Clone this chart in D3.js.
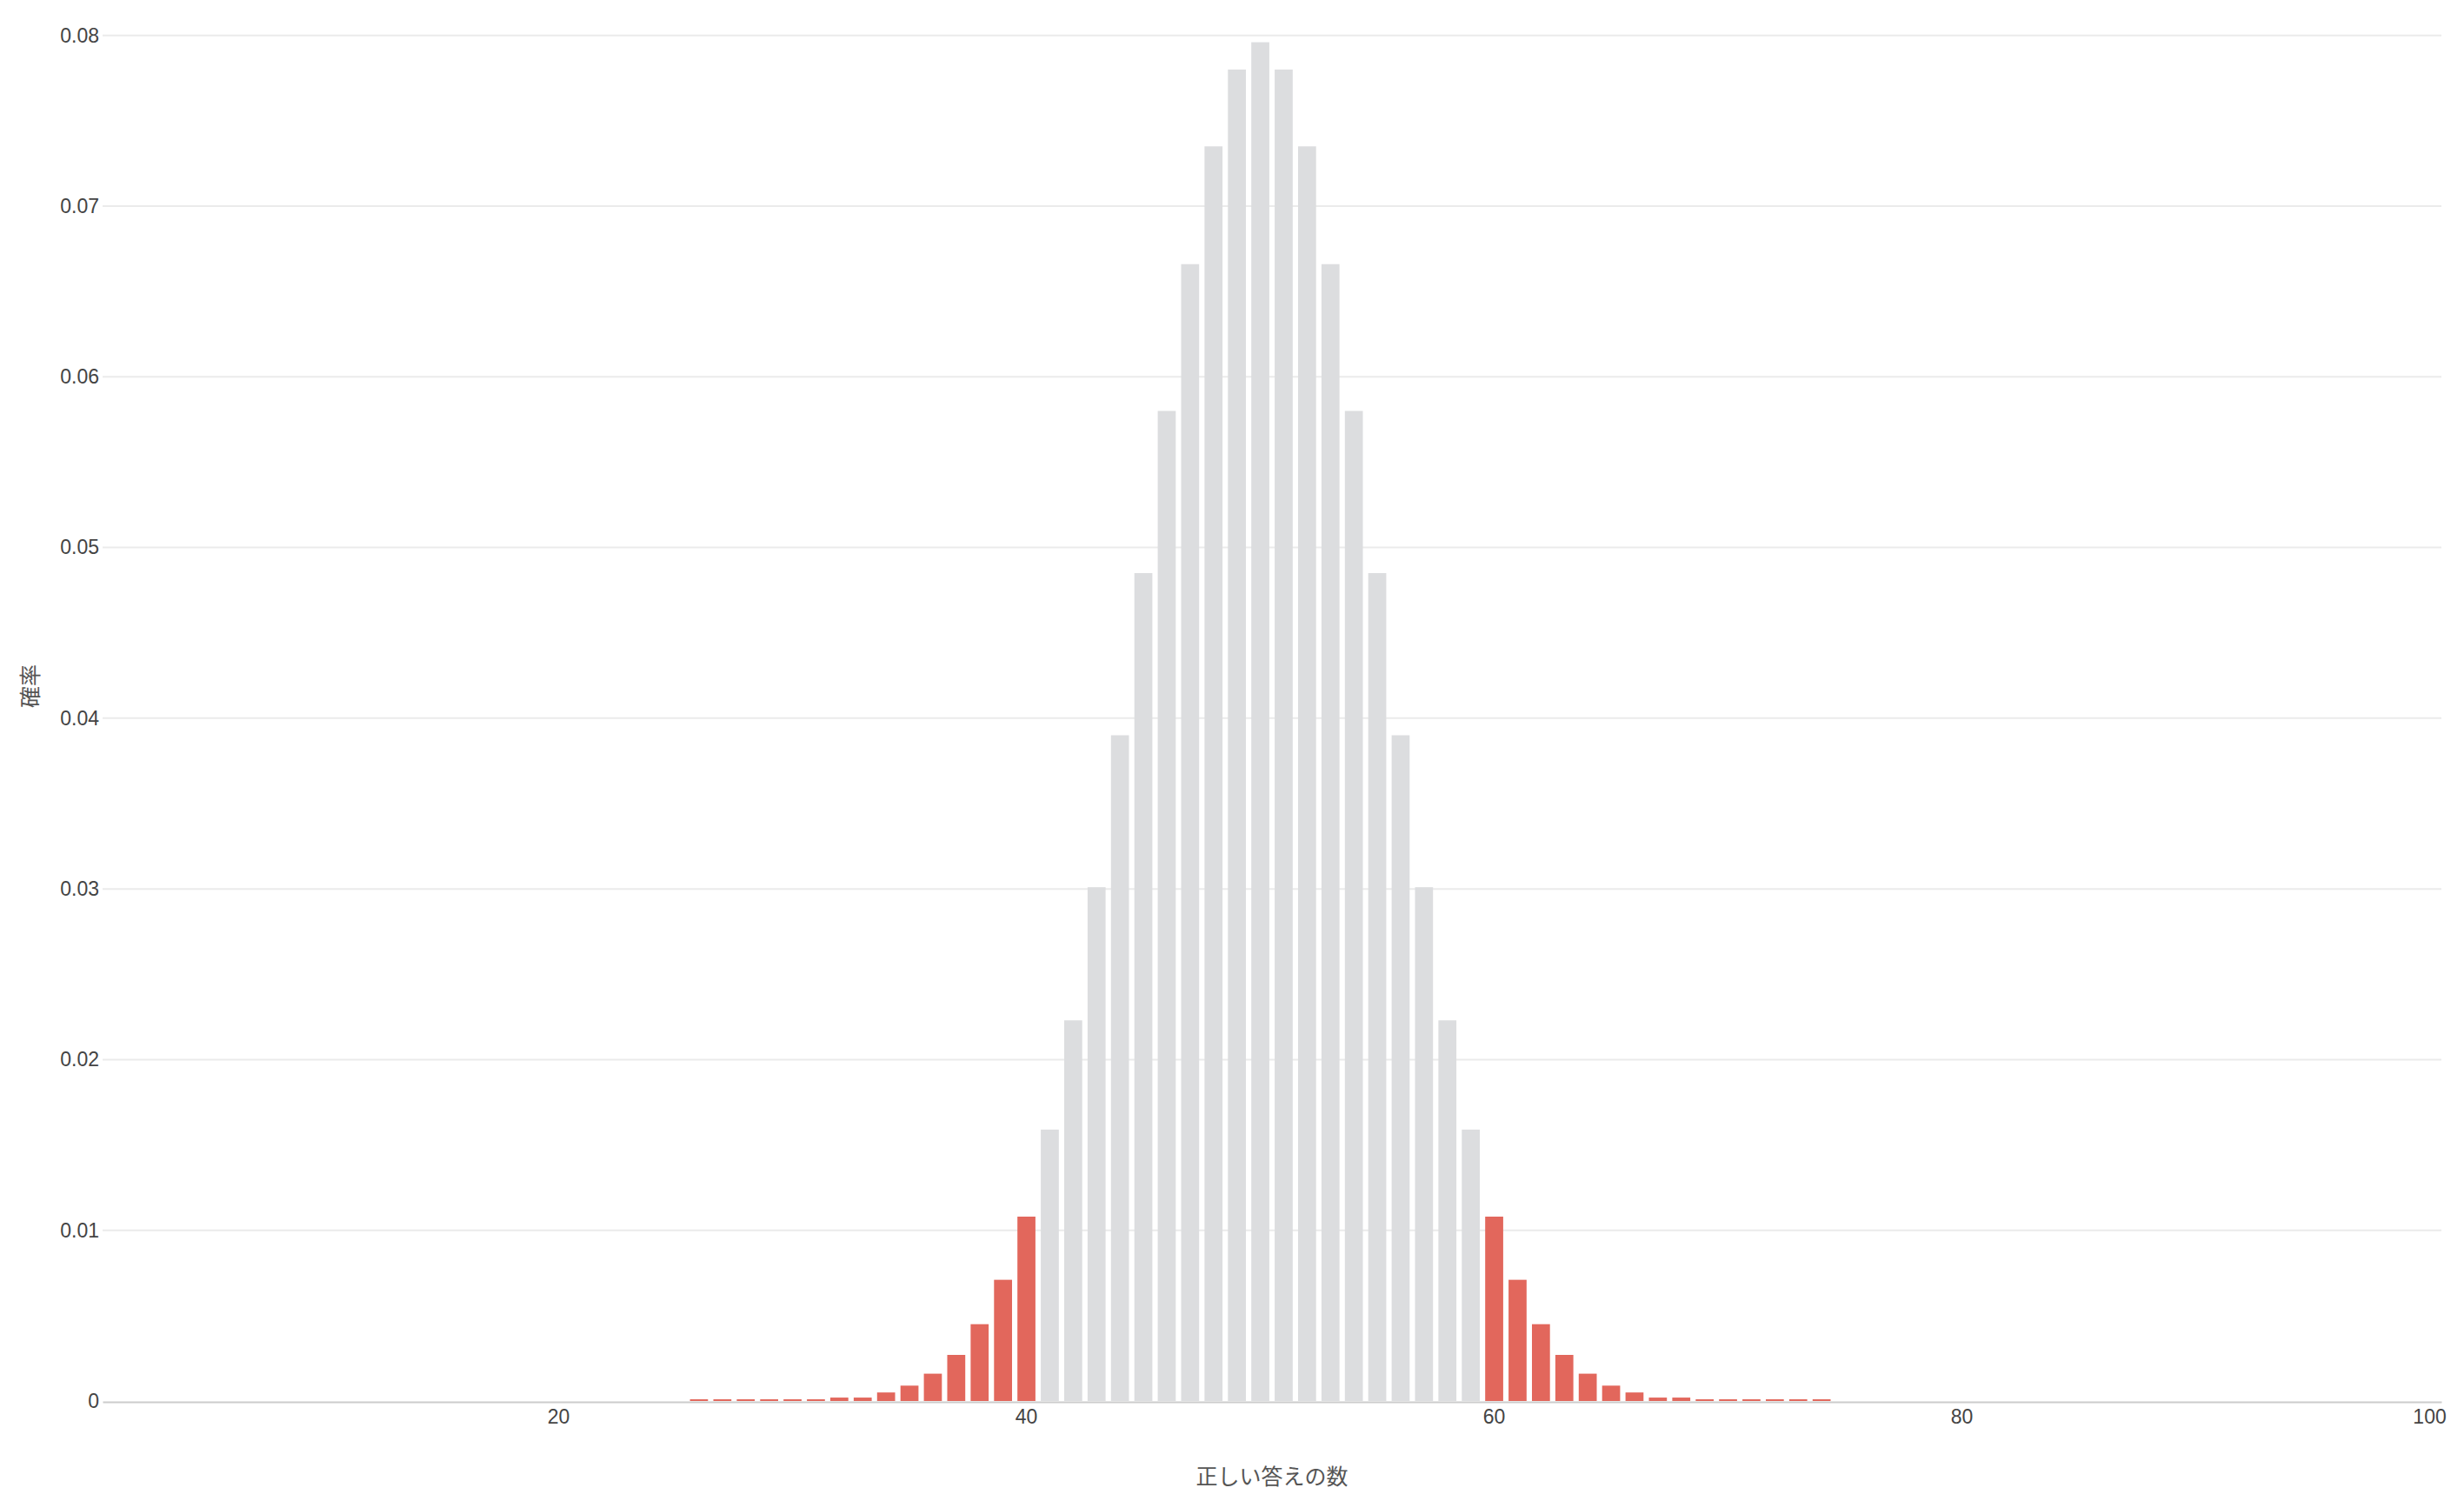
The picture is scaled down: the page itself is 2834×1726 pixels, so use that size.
<!DOCTYPE html>
<html>
<head>
<meta charset="utf-8">
<script src="https://cdn.jsdelivr.net/npm/d3@7"></script>
<style>
  html, body { margin: 0; padding: 0; background: #fff; }
  svg { display: block; }
  text { font-family: "Liberation Sans", Arial, "Noto Sans CJK JP", sans-serif; }
</style>
</head>
<body>
<script>
// ---- data ----
const categories = d3.range(1, 101); // 正しい答えの数 1..100
const barKeys = [26,27,28,29,30,31,32,33,34,35,36,37,38,39,40,41,42,43,44,45,46,47,48,49,50,
                 51,52,53,54,55,56,57,58,59,60,61,62,63,64,65,66,67,68,69,70,71,72,73,74];
const probabilities = [0.0001,0.0001,0.0001,0.0001,0.0001,0.0001,0.0002,0.0002,0.0005,0.0009,
                       0.0016,0.0027,0.0045,0.0071,0.0108,0.0159,0.0223,0.0301,0.0390,0.0485,
                       0.0580,0.0666,0.0735,0.0780,0.0796,0.0780,0.0735,0.0666,0.0580,0.0485,
                       0.0390,0.0301,0.0223,0.0159,0.0108,0.0071,0.0045,0.0027,0.0016,0.0009,
                       0.0005,0.0002,0.0002,0.0001,0.0001,0.0001,0.0001,0.0001,0.0001];
const xTickValues = [20, 40, 60, 80, 100];
const yTickValues = [0, 0.01, 0.02, 0.03, 0.04, 0.05, 0.06, 0.07, 0.08];
const xTitle = "正しい答えの数";
const yTitle = "確率";
const lowCut = 40, highCut = 60;

// ---- layout ----
const W = 2834, H = 1726;
const margin = { left: 118, right: 26, top: 40.7, bottom: 115 };
const innerW = W - margin.left - margin.right;
const innerH = H - margin.top - margin.bottom;

const svg = d3.select("body").append("svg").attr("width", W).attr("height", H);
const g = svg.append("g").attr("transform", `translate(${margin.left},${margin.top})`);

const x = d3.scaleBand().domain(categories).range([0, innerW])
  .paddingInner(0.23).paddingOuter(0.115);
const y = d3.scaleLinear().domain([0, 0.08]).range([innerH, 0]);

// gridlines
g.append("g").selectAll("line")
  .data(yTickValues.filter(v => v > 0))
  .join("line")
  .attr("x1", 0).attr("x2", innerW)
  .attr("y1", d => y(d)).attr("y2", d => y(d))
  .attr("stroke", "#ebebeb").attr("stroke-width", 2);

// y axis labels
const yAxis = g.append("g").call(d3.axisLeft(y).tickValues(yTickValues)
  .tickFormat(d => d === 0 ? "0" : d3.format(".2f")(d)).tickSize(0).tickPadding(4));
yAxis.select(".domain").remove();
yAxis.selectAll("text").attr("font-size", 23).attr("fill", "#444");

// x axis (drawn beneath bars)
const xAxis = g.append("g").attr("transform", `translate(0,${innerH + 1})`)
  .call(d3.axisBottom(x).tickValues(xTickValues).tickSize(0).tickPadding(9));
xAxis.select(".domain").attr("stroke", "#cccccc").attr("stroke-width", 2);
xAxis.selectAll("text").attr("font-size", 23).attr("fill", "#444");

// bars
const bars = barKeys.map((k, i) => ({ k, v: probabilities[i] }));
g.append("g").selectAll("rect")
  .data(bars)
  .join("rect")
  .attr("x", d => x(d.k))
  .attr("width", x.bandwidth())
  .attr("y", d => y(d.v))
  .attr("height", d => y(0) - y(d.v))
  .attr("fill", d => (d.k <= lowCut || d.k >= highCut) ? "#e2675c" : "#dcdddf");

// titles
svg.append("text")
  .attr("x", margin.left + innerW / 2)
  .attr("y", 1700)
  .attr("text-anchor", "middle")
  .attr("dominant-baseline", "middle")
  .attr("font-size", 25).attr("fill", "#555")
  .style("font-family", "'Noto Sans CJK JP', sans-serif")
  .text(xTitle);

svg.append("text")
  .attr("transform", `translate(37,789) rotate(-90)`)
  .attr("text-anchor", "middle")
  .attr("dominant-baseline", "middle")
  .attr("font-size", 25).attr("fill", "#555")
  .style("font-family", "'Noto Sans CJK JP', sans-serif")
  .text(yTitle);
</script>
</body>
</html>
